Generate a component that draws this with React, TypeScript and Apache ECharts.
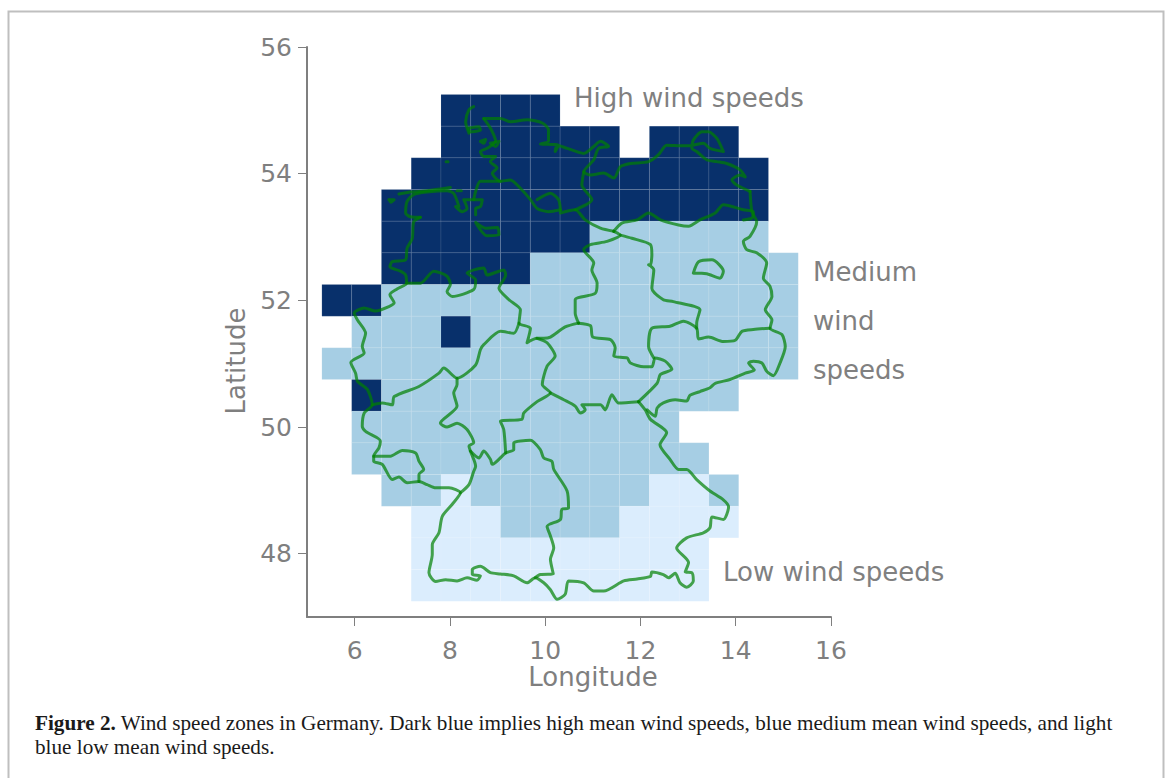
import React, { useEffect, useRef } from "react";
import * as echarts from "echarts";

const lonCenters = [5.625, 6.25, 6.875, 7.5, 8.125, 8.75, 9.375, 10, 10.625, 11.25, 11.875, 12.5, 13.125, 13.75, 14.375, 15];
const latRows = [55, 54.5, 54, 53.5, 53, 52.5, 52, 51.5, 51, 50.5, 50, 49.5, 49, 48.5, 48, 47.5];
const zoneRows = [
  "....HHHH........",
  "....HHHHHH.HHH..",
  "...HHHHHHHHHHHH.",
  "..HHHHHHHHHHHHH.",
  "..HHHHHHHMMMMMM.",
  "..HHHHHMMMMMMMMM",
  "HHMMMMMMMMMMMMMM",
  ".MMMHMMMMMMMMMMM",
  "MMMMMMMMMMMMMMMM",
  ".HMMMMMMMMMMMM..",
  ".MMMMMMMMMMM....",
  ".MMMMMMMMMMMM...",
  "..MMLMMMMMMLLM..",
  "...LLLMMMMLLLL..",
  "...LLLLLLLLLL...",
  "...LLLLLLLLLL...",
];
const zoneColors: Record<string, string> = { H: "#08306b", M: "#a6cee4", L: "#dbedfd" };

const xTicks = [6, 8, 10, 12, 14, 16];
const yTicks = [48, 50, 52, 54, 56];

const outerBorder = [[7.38,53.31],[7.24,53.24],[7.21,52.98],[7.10,52.82],[7.07,52.64],[6.79,52.61],[6.74,52.53],[6.96,52.46],[7.07,52.40],[7.09,52.27],[6.89,52.18],[6.74,52.09],[6.83,51.96],[6.72,51.90],[6.44,51.83],[6.20,51.88],[5.99,51.80],[6.06,51.69],[6.23,51.48],[6.16,51.27],[6.20,51.17],[5.92,51.02],[6.02,50.85],[6.06,50.72],[6.27,50.59],[6.37,50.35],[6.20,50.22],[6.16,50.01],[6.23,49.93],[6.54,49.78],[6.51,49.67],[6.40,49.54],[6.40,49.46],[6.58,49.41],[6.79,49.17],[6.93,49.21],[7.10,49.12],[7.35,49.14],[7.52,49.09],[7.70,49.04],[7.98,49.04],[8.22,48.96],[8.05,48.78],[7.84,48.59],[7.77,48.33],[7.63,48.14],[7.63,47.99],[7.56,47.70],[7.70,47.56],[7.91,47.59],[8.15,47.57],[8.36,47.62],[8.57,47.58],[8.64,47.65],[8.47,47.67],[8.47,47.75],[8.64,47.80],[8.85,47.70],[9.06,47.68],[9.34,47.65],[9.62,47.54],[9.79,47.62],[9.97,47.54],[10.11,47.43],[10.25,47.28],[10.42,47.36],[10.49,47.57],[10.81,47.54],[11.02,47.41],[11.23,47.41],[11.65,47.57],[11.93,47.60],[12.21,47.64],[12.24,47.71],[12.48,47.67],[12.59,47.62],[12.73,47.69],[12.83,47.54],[12.97,47.47],[13.11,47.57],[13.08,47.70],[12.94,47.71],[13.01,47.86],[12.76,48.09],[12.97,48.25],[13.32,48.33],[13.46,48.41],[13.50,48.58],[13.74,48.54],[13.85,48.74],[13.74,48.85],[13.46,48.99],[13.18,49.17],[12.97,49.33],[12.80,49.33],[12.62,49.49],[12.41,49.72],[12.55,49.91],[12.21,50.12],[12.10,50.27],[11.96,50.40]];
const easternBorder = [[12.14,50.27],[12.31,50.17],[12.35,50.30],[12.48,50.38],[12.73,50.43],[12.97,50.41],[13.04,50.50],[13.25,50.56],[13.46,50.62],[13.57,50.69],[13.88,50.75],[14.20,50.85],[14.39,50.90],[14.27,51.01],[14.37,51.04],[14.55,51.01],[14.65,50.88],[14.79,50.81],[14.93,51.01],[15.04,51.27],[14.97,51.46],[14.72,51.56],[14.76,51.69],[14.62,51.85],[14.76,52.06],[14.72,52.22],[14.58,52.35],[14.65,52.59],[14.44,52.75],[14.23,52.80],[14.16,52.93],[14.30,53.01],[14.44,53.24],[14.34,53.40],[14.30,53.72]];
const balticCoast = [[14.30,53.72],[14.02,53.82],[13.92,53.90],[14.09,53.98],[14.20,53.95],[14.09,54.06],[13.81,54.16],[13.60,54.19],[13.39,54.22],[13.18,54.35],[13.08,54.40],[13.11,54.53],[13.29,54.66],[13.43,54.66],[13.60,54.56],[13.74,54.35],[13.46,54.40],[13.32,54.48],[13.11,54.45],[12.90,54.44],[12.55,54.45],[12.38,54.30],[12.17,54.19],[11.79,54.16],[11.58,54.11],[11.44,53.93],[11.23,54.01],[10.95,53.98],[10.81,54.03],[11.02,54.22],[11.12,54.40],[11.33,54.43],[11.16,54.51],[11.02,54.43],[10.81,54.32],[10.46,54.40],[10.25,54.45],[10.21,54.35],[10.28,54.45],[9.90,54.47],[10.07,54.51],[10.07,54.69],[9.94,54.80],[9.62,54.85],[9.27,54.82],[9.06,54.87],[8.71,54.87]];
const westCoastElbe = [[8.71,54.87],[8.85,54.72],[8.96,54.51],[8.78,54.40],[8.64,54.35],[8.71,54.27],[8.96,54.27],[8.85,54.19],[8.99,54.09],[8.89,54.01],[9.06,53.88],[9.27,53.90],[9.48,53.77],[9.69,53.59],[9.83,53.45],[10.07,53.40],[10.32,53.43],[10.32,53.38],[10.63,53.43],[10.84,53.27],[11.16,53.14],[11.44,53.09]];
const hamburg = [[9.83,53.59],[10.11,53.69],[10.28,53.59],[10.32,53.43]];
const schleswigEast = [[10.81,54.03],[10.77,53.82],[10.98,53.59],[10.63,53.43]];
const sylt = [[8.50,55.06],[8.40,55.01],[8.33,54.82],[8.40,54.64]];
const foehr = [[8.40,54.72],[8.61,54.74],[8.64,54.69],[8.43,54.66],[8.40,54.72]];
const pellworm = [[8.64,54.51],[8.75,54.54],[8.71,54.48],[8.64,54.51]];
const nordstrand = [[8.85,54.48],[9.03,54.51],[8.96,54.43],[8.85,54.48]];
const helgoland = [[7.92,54.19],[7.96,54.19]];
const frisianIslands = [[6.93,53.68],[7.17,53.71],[7.52,53.73],[8.01,53.78]];
const borkum = [[6.72,53.59],[6.83,53.59],[6.76,53.55],[6.72,53.59]];
const wangerooge = [[8.15,53.73],[8.24,53.73]];
const lowerSaxonyCoast = [[7.38,53.31],[7.17,53.32],[7.07,53.38],[7.10,53.56],[7.24,53.67],[7.52,53.71],[7.94,53.73],[8.08,53.69],[8.19,53.48],[8.12,53.48],[8.26,53.40],[8.36,53.45],[8.29,53.59],[8.50,53.59],[8.68,53.59],[8.64,53.48],[8.54,53.45],[8.54,53.35]];
const weserElbe = [[8.50,53.59],[8.54,53.72],[8.64,53.88],[9.06,53.88]];
const bremen = [[8.54,53.23],[8.75,53.14],[9.00,53.15],[9.03,53.03],[8.78,53.02],[8.54,53.23]];
const lowerSaxonySouth = [[7.09,52.27],[7.38,52.27],[7.66,52.46],[7.94,52.38],[8.01,52.25],[7.94,52.14],[8.05,52.06],[8.50,52.17],[8.54,52.32],[8.36,52.43],[8.71,52.51],[8.78,52.40],[9.13,52.48],[9.17,52.40],[9.03,52.19],[9.24,52.01],[9.48,51.85],[9.45,51.64],[9.69,51.56],[9.62,51.33],[9.83,51.40],[9.97,51.40],[10.11,51.42],[10.42,51.58],[10.70,51.64]];
const hesseNorthWest = [[9.45,51.64],[9.34,51.48],[9.06,51.51],[8.71,51.30],[8.64,51.22],[8.54,50.98],[8.15,50.77],[7.87,50.93],[7.77,50.85],[7.35,50.64],[6.83,50.48],[6.79,50.35],[6.58,50.38],[6.37,50.35]];
const hesseThuringia = [[9.83,51.40],[10.04,51.33],[10.21,51.12],[10.04,50.96],[9.94,50.67],[10.11,50.54],[9.83,50.40],[9.55,50.22],[9.51,50.12],[9.06,50.09],[9.13,49.96],[9.17,49.59]];
const palatinateEast = [[8.15,50.77],[8.15,50.67],[8.08,50.54],[8.15,50.33],[7.80,50.06],[7.94,50.00],[8.15,50.06],[8.36,49.96],[8.50,49.75],[8.40,49.70],[8.43,49.62],[8.54,49.38],[8.50,49.30],[8.40,49.09],[8.22,48.96]];
const swabiaBavaria = [[8.43,49.62],[8.61,49.51],[8.71,49.62],[8.85,49.49],[8.89,49.41],[9.17,49.59],[9.34,49.64],[9.34,49.75],[9.69,49.79],[9.90,49.64],[9.97,49.51],[10.14,49.46],[10.18,49.33],[10.46,48.99],[10.49,48.72],[10.35,48.70],[10.32,48.54],[10.04,48.43],[10.11,48.28],[10.18,48.09],[10.11,47.91],[10.17,47.68],[9.90,47.67],[9.79,47.62]];
const saarland = [[6.40,49.54],[6.75,49.54],[7.00,49.63],[7.28,49.59],[7.35,49.46],[7.45,49.33],[7.35,49.25],[7.35,49.14]];
const thuringiaSouth = [[10.11,50.54],[10.39,50.43],[10.63,50.33],[10.74,50.22],[10.84,50.27],[10.77,50.35],[11.16,50.35],[11.26,50.27],[11.40,50.51],[11.54,50.38],[11.96,50.40]];
const thuringiaEast = [[11.96,50.40],[12.35,50.69],[12.42,50.83],[12.66,50.91],[12.52,51.04],[12.31,51.09],[12.24,50.95],[12.07,50.95],[11.79,51.01],[11.72,51.09],[11.44,51.12],[11.47,51.25],[11.37,51.38],[11.00,51.42],[10.95,51.60],[10.70,51.64]];
const saxonyAnhaltWest = [[10.70,51.64],[10.63,51.80],[10.63,52.01],[11.05,52.11],[11.09,52.27],[10.98,52.48],[11.02,52.59],[10.81,52.80],[10.95,52.88],[11.30,52.93],[11.58,53.03],[11.44,53.09]];
const saxonyAnhaltEast = [[11.58,53.03],[11.82,52.98],[12.21,52.88],[12.24,52.72],[12.21,52.56],[12.17,52.56],[12.28,52.48],[12.24,52.19],[12.48,52.01],[12.69,51.98],[13.25,51.85],[13.18,51.64],[13.18,51.56]];
const saxonyNorth = [[12.28,51.09],[12.17,51.27],[12.24,51.56],[12.62,51.59],[12.90,51.67],[13.18,51.56],[13.22,51.39],[13.43,51.42],[13.74,51.35],[13.99,51.37],[14.13,51.51],[14.37,51.54],[14.72,51.56]];
const mecklenburgSouth = [[11.44,53.09],[11.61,53.22],[11.93,53.27],[12.17,53.38],[12.42,53.27],[12.80,53.19],[13.01,53.17],[13.25,53.27],[13.57,53.38],[13.74,53.51],[14.16,53.43],[14.37,53.40],[14.34,53.30],[14.16,53.27]];
const berlin = [[13.11,52.43],[13.22,52.61],[13.50,52.64],[13.74,52.46],[13.67,52.35],[13.39,52.42],[13.11,52.43]];

const boundaries = [outerBorder, easternBorder, balticCoast, westCoastElbe, hamburg, schleswigEast, sylt, foehr, pellworm, nordstrand, helgoland, frisianIslands, borkum, wangerooge, lowerSaxonyCoast, weserElbe, bremen, lowerSaxonySouth, hesseNorthWest, hesseThuringia, palatinateEast, swabiaBavaria, saarland, thuringiaSouth, thuringiaEast, saxonyAnhaltWest, saxonyAnhaltEast, saxonyNorth, mecklenburgSouth, berlin];

const captionLead = "Figure 2.";
const captionLine1 = " Wind speed zones in Germany. Dark blue implies high mean wind speeds, blue medium mean wind speeds, and light";
const captionLine2 = "blue low mean wind speeds.";

const GRAY = "#7f7f7f";
const FONT = "DejaVu Sans";

export default function App() {
  const ref = useRef<HTMLDivElement>(null);
  useEffect(() => {
    const chart = echarts.init(ref.current!, null, { renderer: "svg" });
    const cells: any[] = [];
    zoneRows.forEach((row, r) => {
      row.split("").forEach((z, c) => {
        if (z !== ".") cells.push([lonCenters[c], latRows[r], z]);
      });
    });
    const annotation = (text: string, x: number, y: number) => ({
      type: "text",
      x,
      y,
      style: { text, fill: "#808080", font: `26px "${FONT}"`, textVerticalAlign: "middle" },
    });
    chart.setOption({
      animation: false,
      backgroundColor: "#fff",
      grid: { left: 307, top: 47, width: 524, height: 570, containLabel: false },
      xAxis: {
        type: "value",
        min: 5,
        max: 16,
        name: "Longitude",
        nameLocation: "middle",
        nameGap: 48,
        nameMoveOverlap: false,
        nameTextStyle: { color: GRAY, fontFamily: FONT, fontSize: 26, lineHeight: 24, padding: [0, 0, 0, 48] },
        splitLine: { show: false },
        axisLine: { show: true, lineStyle: { color: GRAY, width: 2 } },
        axisTick: { show: true, length: 9, customValues: xTicks, lineStyle: { color: GRAY, width: 1 } },
        axisLabel: { color: GRAY, fontFamily: FONT, fontSize: 25, lineHeight: 22, margin: 22, customValues: xTicks },
      },
      yAxis: {
        type: "value",
        min: 47,
        max: 56,
        name: "Latitude",
        nameLocation: "middle",
        nameGap: 58,
        nameMoveOverlap: false,
        nameTextStyle: { color: GRAY, fontFamily: FONT, fontSize: 26, padding: [0, 58, 0, 0] },
        splitLine: { show: false },
        axisLine: { show: true, lineStyle: { color: GRAY, width: 2 } },
        axisTick: { show: true, length: 9, customValues: yTicks, lineStyle: { color: GRAY, width: 1 } },
        axisLabel: { color: GRAY, fontFamily: FONT, fontSize: 25, margin: 15, customValues: yTicks },
      },
      series: [
        {
          type: "custom",
          silent: true,
          z: 1,
          data: cells,
          renderItem: (_p: any, api: any) => {
            const lon = api.value(0);
            const lat = api.value(1);
            const a = api.coord([lon - 0.3125, lat + 0.25]);
            const b = api.coord([lon + 0.3125, lat - 0.25]);
            return {
              type: "rect",
              shape: { x: a[0], y: a[1], width: b[0] - a[0], height: b[1] - a[1] },
              style: {
                fill: zoneColors[cells[_p.dataIndex][2]],
                stroke: "rgba(255,255,255,0.09)",
                lineWidth: 1,
              },
            };
          },
        },
        ...boundaries.map((points) => ({
          type: "line",
          silent: true,
          z: 3,
          data: points,
          symbol: "none",
          clip: false,
          smooth: 0.25,
          lineStyle: { color: "#008000", width: 3, opacity: 0.7, join: "round", cap: "round" },
        })),
      ],
      graphic: [
        {
          type: "polyline",
          shape: { points: [[8.5, 778], [8.5, 11.5], [1163.5, 11.5], [1163.5, 778]] },
          style: { stroke: "#bfbfbf", lineWidth: 2, fill: "none" },
        },
        annotation("High wind speeds", 574, 98),
        annotation("Medium", 813, 272),
        annotation("wind", 813, 321),
        annotation("speeds", 813, 370),
        annotation("Low wind speeds", 723, 572),
        {
          type: "text",
          x: 35,
          y: 723,
          style: {
            text: `{b|${captionLead}}{n|${captionLine1}}`,
            textVerticalAlign: "middle",
            rich: {
              b: { font: 'bold 21.2px "Liberation Serif"', fill: "#1a1a1a" },
              n: { font: '21.2px "Liberation Serif"', fill: "#1a1a1a" },
            },
          },
        },
        {
          type: "text",
          x: 35,
          y: 747,
          style: { text: captionLine2, fill: "#1a1a1a", font: '21.2px "Liberation Serif"', textVerticalAlign: "middle" },
        },
      ],
    });
    return () => chart.dispose();
  }, []);
  return <div ref={ref} style={{ position: "absolute", left: 0, top: 0, width: 1167, height: 778 }} />;
}
